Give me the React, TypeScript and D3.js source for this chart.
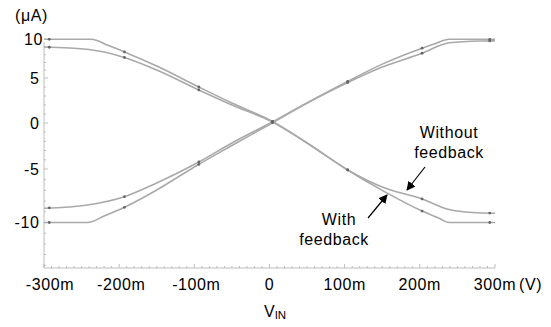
import React from "react";
import * as d3 from "d3";

// ---- data (x in mV, y in µA) ----
const xTickValues = [-300, -200, -100, 0, 100, 200, 300];
const xTickLabels = ["-300m", "-200m", "-100m", "0", "100m", "200m", "300m"];
const yTickValues = [10, 5, 0, -5, -10];
const yTickLabels = ["10", "5", "0", "-5", "-10"];

const incWithX = [-300, -242, -220, -193, -150, -100, -50, 0, 50, 100, 150, 203, 220, 239, 300];
const incWithY = [-10, -10, -9.4, -8.58, -6.96, -4.78, -2.45, -0.16, 2.22, 4.44, 6.79, 8.85, 9.42, 10, 10];

const incWithoutX = [-300, -242, -193, -150, -94, -50, 0, 50, 100, 150, 203, 239, 280, 300];
const incWithoutY = [-8.67, -8.36, -7.59, -6.31, -4.24, -2.17, -0.05, 2.22, 4.33, 6.41, 8.2, 9.55, 9.78, 9.8];

const decWithX = [-300, -237, -215, -193, -150, -94, -50, 4, 50, 104, 150, 203, 225, 239, 300];
const decWithY = [10, 10, 9.23, 8.37, 6.54, 4.0, 2.22, 0.17, -2.17, -5.09, -7.0, -8.93, -9.58, -10, -10];

const decWithoutX = [-300, -240, -193, -150, -94, -50, 4, 50, 104, 150, 203, 239, 270, 300];
const decWithoutY = [9.01, 8.68, 7.65, 6.03, 3.67, 2.0, 0.11, -2.17, -5.09, -6.68, -7.8, -8.79, -9.07, -9.14];

const markerX = [-293, -193, -94, 4, 104, 203, 293];

const seriesList = [
  { name: "incWith", xs: incWithX, ys: incWithY },
  { name: "incWithout", xs: incWithoutX, ys: incWithoutY },
  { name: "decWith", xs: decWithX, ys: decWithY },
  { name: "decWithout", xs: decWithoutX, ys: decWithoutY },
];

const W = 551;
const H = 327;
const FONT = "'Liberation Sans', Arial, Helvetica, sans-serif";

function interp(xs: number[], ys: number[], xv: number) {
  const i = Math.max(1, Math.min(xs.length - 1, d3.bisectLeft(xs, xv)));
  const x0 = xs[i - 1], x1 = xs[i];
  const t = (xv - x0) / (x1 - x0);
  return ys[i - 1] + t * (ys[i] - ys[i - 1]);
}

export default function App() {
  const x = d3.scaleLinear().domain([-300, 300]).range([44, 495]);
  const y = d3.scaleLinear().domain([-10, -5, 0, 5, 10]).range([222.5, 169, 123, 78, 39.3]);
  const axisY = 268;
  const axisTop = 42;
  const yMinVal = y.invert(axisY);
  const yMaxVal = y.invert(axisTop);

  const xMinor = d3.range(-300, 301, 10);
  const yMinor = d3.range(Math.ceil(yMinVal), Math.floor(yMaxVal) + 1, 1);

  const line = d3
    .line<[number, number]>()
    .x((d) => x(d[0]))
    .y((d) => y(d[1]))
    .curve(d3.curveMonotoneX);

  const axisColor = "#bdbdbd";
  const curveColor = "#a9a9a9";
  const ls = 0.6;

  return (
    <svg width={W} height={H} style={{ position: "absolute", left: 0, top: 0, background: "#fff" }} fontFamily={FONT}>
      <defs>
        <marker id="ah" viewBox="0 0 10 10" refX="9" refY="5" markerWidth="9" markerHeight="9" markerUnits="userSpaceOnUse" orient="auto">
          <path d="M0,0 L10,5 L0,10 z" fill="#000" />
        </marker>
      </defs>
      {/* axes */}
      <line x1={x(-300)} x2={x(300)} y1={axisY} y2={axisY} stroke={axisColor} strokeWidth={1} />
      <line x1={x(-300)} x2={x(-300)} y1={axisTop} y2={axisY} stroke={axisColor} strokeWidth={1} />
      {xMinor.map((v) => (
        <line key={"xm" + v} x1={x(v)} x2={x(v)} y1={axisY} y2={axisY - (v % 100 === 0 ? 4 : 2)} stroke={axisColor} strokeWidth={1} />
      ))}
      {yMinor.map((v) => (
        <line key={"ym" + v} x1={x(-300)} x2={x(-300) + (v % 5 === 0 ? 4 : 2)} y1={y(v)} y2={y(v)} stroke={axisColor} strokeWidth={1} />
      ))}
      {/* tick labels */}
      {xTickValues.map((v, i) => (
        <text key={"xl" + v} x={x(v) + (i === 0 ? 6 : v < 0 ? 2 : 0)} y={290} fontSize={16} letterSpacing={ls} textAnchor="middle" fill="#000">
          {xTickLabels[i]}
        </text>
      ))}
      <text x={x(300) + 24} y={290} fontSize={16} letterSpacing={ls} textAnchor="start" fill="#000">(V)</text>
      {yTickValues.map((v, i) => (
        <text key={"yl" + v} x={i === 0 ? 43 : 39.5} y={y(v) + 5.5} fontSize={16} letterSpacing={ls} textAnchor="end" fill="#000">
          {yTickLabels[i]}
        </text>
      ))}
      <text x={15} y={21} fontSize={16} letterSpacing={ls} fill="#000">(μA)</text>
      <text x={264} y={317} fontSize={16} fill="#000">
        V<tspan fontSize={11.5} dy={2}>IN</tspan>
      </text>
      {/* curves */}
      {seriesList.map((s) => (
        <path key={s.name} d={line(s.xs.map((xv, i) => [xv, s.ys[i]] as [number, number])) || ""} fill="none" stroke={curveColor} strokeWidth={1.6} />
      ))}
      {seriesList.map((s) =>
        markerX.map((mx) => (
          <circle key={s.name + mx} cx={x(mx)} cy={y(interp(s.xs, s.ys, mx))} r={1.4} fill="#666" />
        ))
      )}
      {/* annotations */}
      <text x={449} y={138} fontSize={16} letterSpacing={ls} textAnchor="middle" fill="#000">Without</text>
      <text x={449} y={158} fontSize={16} letterSpacing={ls} textAnchor="middle" fill="#000">feedback</text>
      <line x1={425} y1={167} x2={407} y2={190} stroke="#000" strokeWidth={1.2} markerEnd="url(#ah)" />
      <text x={339} y={225} fontSize={16} letterSpacing={ls} textAnchor="middle" fill="#000">With</text>
      <text x={334} y={245} fontSize={16} letterSpacing={ls} textAnchor="middle" fill="#000">feedback</text>
      <line x1={368} y1={218} x2={387} y2={195} stroke="#000" strokeWidth={1.2} markerEnd="url(#ah)" />
    </svg>
  );
}
